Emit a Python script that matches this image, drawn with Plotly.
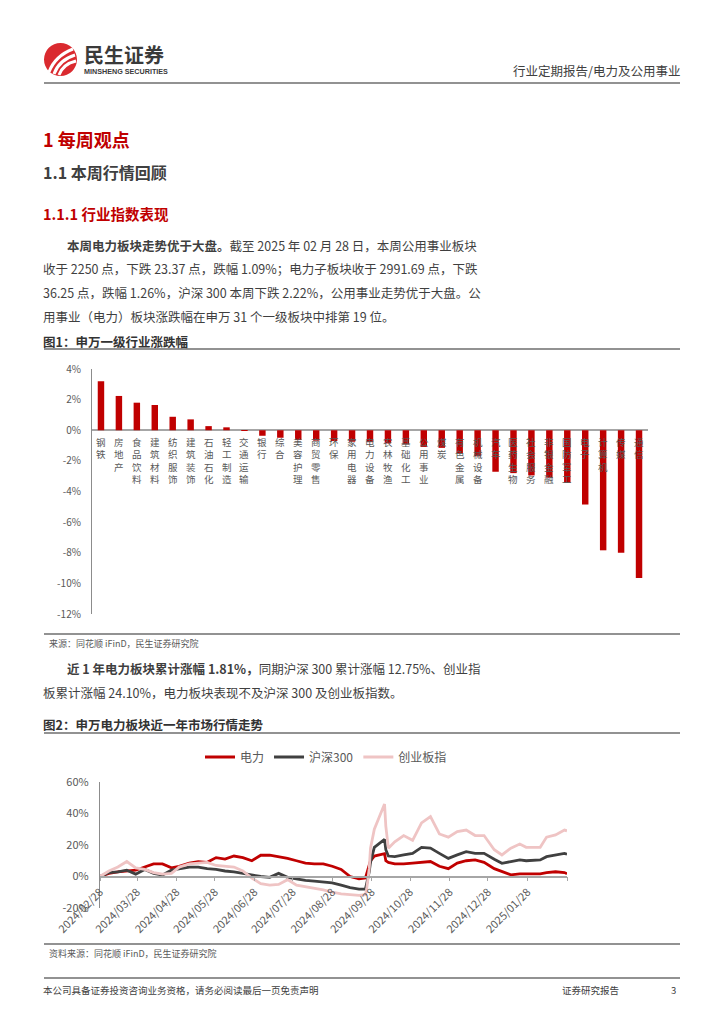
import plotly.graph_objects as go

W, H = 724, 1024


def X(px):
    return px / W


def Y(py):
    return 1 - py / H


FONT = "Noto Sans CJK SC"
DARK = "#3F3F3F"
GRAY = "#595959"
RED = "#C00000"

# ---------------- Figure 1 data: 申万一级行业涨跌幅 (%) ----------------
industries = ["钢铁", "房地产", "食品饮料", "建筑材料", "纺织服饰", "建筑装饰", "石油石化",
              "轻工制造", "交通运输", "银行", "综合", "美容护理", "商贸零售", "环保",
              "家用电器", "电力设备", "农林牧渔", "基础化工", "公用事业", "煤炭", "有色金属",
              "机械设备", "汽车", "医药生物", "社会服务", "非银金融", "国防军工", "电子",
              "计算机", "传媒", "通信"]
changes = [3.20, 2.24, 1.80, 1.65, 0.88, 0.71, 0.27, 0.19, -0.03, -0.36, -0.49, -0.64,
           -0.68, -0.70, -0.75, -0.78, -0.86, -0.92, -1.09, -1.15, -1.50, -1.70, -2.71,
           -2.80, -2.95, -3.10, -3.43, -4.85, -7.84, -8.00, -9.65]
y1_ticks = [4, 2, 0, -2, -4, -6, -8, -10, -12]
y1_labels = ["4%", "2%", "0%", "-2%", "-4%", "-6%", "-8%", "-10%", "-12%"]

# ---------------- Figure 2 data: 近一年市场走势 (%) ----------------
dates = ["2024-02-28", "2024-03-06", "2024-03-13", "2024-03-20", "2024-03-27", "2024-04-03",
         "2024-04-10", "2024-04-17", "2024-04-24", "2024-04-30", "2024-05-08", "2024-05-15",
         "2024-05-22", "2024-05-29", "2024-06-05", "2024-06-12", "2024-06-19", "2024-06-26",
         "2024-07-03", "2024-07-10", "2024-07-17", "2024-07-24", "2024-07-31", "2024-08-07",
         "2024-08-14", "2024-08-21", "2024-08-28", "2024-09-04", "2024-09-11", "2024-09-18",
         "2024-09-23", "2024-09-24", "2024-09-26", "2024-09-27", "2024-09-30", "2024-10-08",
         "2024-10-09", "2024-10-11", "2024-10-16", "2024-10-23", "2024-10-30", "2024-11-06",
         "2024-11-13", "2024-11-20", "2024-11-27", "2024-12-04", "2024-12-11", "2024-12-18",
         "2024-12-25", "2025-01-02", "2025-01-08", "2025-01-15", "2025-01-22", "2025-01-27",
         "2025-02-07", "2025-02-12", "2025-02-19", "2025-02-26", "2025-02-28"]
power = [0, 2, 3, 3.5, 4, 6, 8, 8, 5.5, 6.5, 8.5, 9.5, 9, 12, 11, 13, 12, 10, 13.5, 13.5,
         12.5, 11.5, 10, 8.5, 8, 8, 6.5, 4.5, 0, -1.5,
         -1, 1.5, 6, 10, 13, 14.5, 10, 9, 8,
         8, 8.5, 9, 9.5, 6.5, 5, 8.5, 10, 10.5, 9, 5, 3, 1, 1.7, 1.7, 1.7, 2.5, 3, 2.5, 1.81]
hs300 = [0, 2.5, 3, 4, 1.5, 4.5, 2, 1, 4, 5, 6, 6, 5, 4.5, 3.5, 3, 2, 1, 0, -0.5,
         2, -0.5, -1.5, -2.5, -3, -3.5, -4, -5.5, -7, -8,
         -8, -4.5, 3, 9, 18.5, 23.6, 17, 13, 12.6,
         13.7, 14.7, 18.5, 18, 14.7, 11.5, 13.7, 15.8, 14.7, 14.7, 11, 8.4, 9.5, 10.5, 10,
         10.5, 12.6, 13.7, 14.7, 14.2]
gem = [0, 3.5, 6, 9.5, 5.5, 4.5, 2.5, 1.5, 2, 6, 8, 8.5, 9, 7, 6.5, 6, 3.5, -1, -4.5, -5.5,
       -5, -2, -5.5, -6.5, -7.5, -8.5, -10, -11, -11.5, -12,
       -11.5, -8, 5, 18, 30, 46, 32, 18, 22,
       26, 23, 34, 38, 27, 25, 28.5, 29.5, 26, 26, 17, 13.7, 18, 20.6, 18.5, 18.5, 25, 26.4,
       29.5, 29]
x2_ticks = ["2024-02-28", "2024-03-28", "2024-04-28", "2024-05-28", "2024-06-28", "2024-07-28",
            "2024-08-28", "2024-09-28", "2024-10-28", "2024-11-28", "2024-12-28", "2025-01-28",
            "2025-02-28"]
x2_labels = ["2024/02/28", "2024/03/28", "2024/04/28", "2024/05/28", "2024/06/28", "2024/07/28",
             "2024/08/28", "2024/09/28", "2024/10/28", "2024/11/28", "2024/12/28", "2025/01/28",
             ""]
y2_ticks = [60, 40, 20, 0, -20]
y2_labels = ["60%", "40%", "20%", "0%", "-20%"]

fig = go.Figure()
fig.add_trace(go.Bar(x=industries, y=changes, xaxis="x", yaxis="y", width=0.36,
                     marker=dict(color=RED, line=dict(width=0)), showlegend=False))
fig.add_trace(go.Scatter(x=dates, y=power, name="电力", mode="lines", xaxis="x2", yaxis="y2",
                         line=dict(color=RED, width=2.8)))
fig.add_trace(go.Scatter(x=dates, y=hs300, name="沪深300", mode="lines", xaxis="x2", yaxis="y2",
                         line=dict(color="#404040", width=2.8)))
fig.add_trace(go.Scatter(x=dates, y=gem, name="创业板指", mode="lines", xaxis="x2", yaxis="y2",
                         line=dict(color="#EFC4C4", width=2.8)))

ann = []


def txt(x, y, text, size, color=DARK, anchor="left", bold=False, family=FONT):
    if bold:
        text = "<b>" + text + "</b>"
    ann.append(dict(x=X(x), y=Y(y), xref="paper", yref="paper", text=text, showarrow=False,
                    xanchor=anchor, yanchor="middle", borderpad=0,
                    font=dict(family=family, size=size, color=color)))


# header
txt(83, 54, "民生证券", 20, "#3A3A3A", bold=True)
txt(83, 71.5, "MINSHENG SECURITIES", 7.2, "#3A3A3A", bold=True,
    family="Liberation Sans Narrow, Liberation Sans")
txt(681, 70, "行业定期报告/电力及公用事业", 12.5, "#404040", anchor="right")

# headings
txt(42, 139, "1 每周观点", 18, RED, bold=True)
txt(42, 172, "1.1 本周行情回顾", 16, "#404040", bold=True)
txt(42, 213, "1.1.1 行业指数表现", 14.5, RED, bold=True)

body = 12.5
txt(66, 245, "<b>本周电力板块走势优于大盘。</b>截至 2025 年 02 月 28 日，本周公用事业板块", body)
txt(42, 268, "收于 2250 点，下跌 23.37 点，跌幅 1.09%；电力子板块收于 2991.69 点，下跌", body)
txt(42, 292, "36.25 点，跌幅 1.26%，沪深 300 本周下跌 2.22%，公用事业走势优于大盘。公", body)
txt(42, 316, "用事业（电力）板块涨跌幅在申万 31 个一级板块中排第 19 位。", body)

txt(42, 341, "图1：申万一级行业涨跌幅", 12.5, "#333333", bold=True)
txt(48, 643, "来源：同花顺 iFinD，民生证券研究院", 9, GRAY)

txt(66, 668, "<b>近 1 年电力板块累计涨幅 1.81%，</b>同期沪深 300 累计涨幅 12.75%、创业指", body)
txt(42, 692, "板累计涨幅 24.10%，电力板块表现不及沪深 300 及创业板指数。", body)

txt(42, 724, "图2：申万电力板块近一年市场行情走势", 12.5, "#333333", bold=True)
txt(48, 953, "资料来源：同花顺 iFinD，民生证券研究院", 9, GRAY)

txt(42, 990, "本公司具备证券投资咨询业务资格，请务必阅读最后一页免责声明", 9.5, "#404040")
txt(561, 990, "证券研究报告", 9.5, "#404040")
txt(670, 990, "3", 9.5, "#404040")

# stacked vertical category labels of figure 1 (one upright character per line)
for name in industries:
    ann.append(dict(x=name, y=0, xref="x", yref="y", text="<br>".join(name), showarrow=False,
                    xanchor="center", yanchor="top", yshift=-4, borderpad=0,
                    font=dict(family=FONT, size=9.5, color=GRAY)))

shapes = []


def hline(y, x0=44, x1=680, color="#6E6E6E", width=1.5):
    shapes.append(dict(type="line", xref="paper", yref="paper", x0=X(x0), x1=X(x1),
                       y0=Y(y), y1=Y(y), line=dict(color=color, width=width)))


hline(83)
hline(349)
hline(634)
hline(733)
hline(944)
hline(978)

# logo
shapes.append(dict(type="circle", xref="paper", yref="paper", x0=X(44), x1=X(77), y0=Y(76), y1=Y(43),
                   fillcolor="#DA2A2F", line=dict(width=0)))
for (ax, ay, cx, cy, bx, by) in [(49, 72, 55, 56, 73, 49), (54, 74, 59, 60, 75, 55), (59, 75, 63, 64, 76, 61)]:
    shapes.append(dict(type="path", xref="paper", yref="paper",
                       path=f"M {X(ax)},{Y(ay)} Q {X(cx)},{Y(cy)} {X(bx)},{Y(by)}",
                       line=dict(color="white", width=3)))

axis_font = dict(family=FONT, size=10, color=GRAY)

fig.update_layout(
    template="none",
    width=W, height=H, margin=dict(l=0, r=0, t=0, b=0, pad=0, autoexpand=False),
    paper_bgcolor="white", plot_bgcolor="white",
    annotations=ann, shapes=shapes,
    font=dict(family=FONT),
    xaxis=dict(domain=[X(92), X(648)], type="category", range=[-0.5, 30.5], visible=False,
               anchor="y", automargin=False),
    yaxis=dict(domain=[Y(614), Y(369)], range=[-12, 4], tickvals=y1_ticks, ticktext=y1_labels,
               showgrid=False, showline=True, linecolor="#8C8C8C", linewidth=1.2,
               zeroline=True, zerolinecolor="#A6A6A6", zerolinewidth=1.5, automargin=False,
               ticks="", tickfont=axis_font, ticklabelstandoff=8, anchor="x"),
    xaxis2=dict(domain=[X(100), X(567)], type="date", range=["2024-02-28", "2025-02-28"],
                anchor="free", position=Y(876.7), tickvals=x2_ticks, ticktext=x2_labels,
                tickangle=-45, ticks="outside", ticklen=4, tickcolor="#A6A6A6", automargin=False,
                showline=True, linecolor="#A6A6A6", linewidth=1.5, showgrid=False,
                zeroline=False, tickfont=dict(family=FONT, size=11, color=GRAY)),
    yaxis2=dict(domain=[Y(908), Y(782)], range=[-20, 60], tickvals=y2_ticks, ticktext=y2_labels,
                showgrid=False, showline=True, linecolor="#8C8C8C", linewidth=1.2, zeroline=False,
                ticks="", tickfont=dict(family=FONT, size=11, color=GRAY), ticklabelstandoff=8,
                anchor="x2", automargin=False),
    legend=dict(orientation="h", x=X(200), y=Y(757), xanchor="left", yanchor="middle",
                font=dict(family=FONT, size=12, color=GRAY), bgcolor="rgba(0,0,0,0)",
                itemwidth=30, tracegroupgap=0),
)

fig.write_html("out.html", config={"displayModeBar": False},
               post_script="document.body.style.margin='0';document.body.style.padding='0';")
